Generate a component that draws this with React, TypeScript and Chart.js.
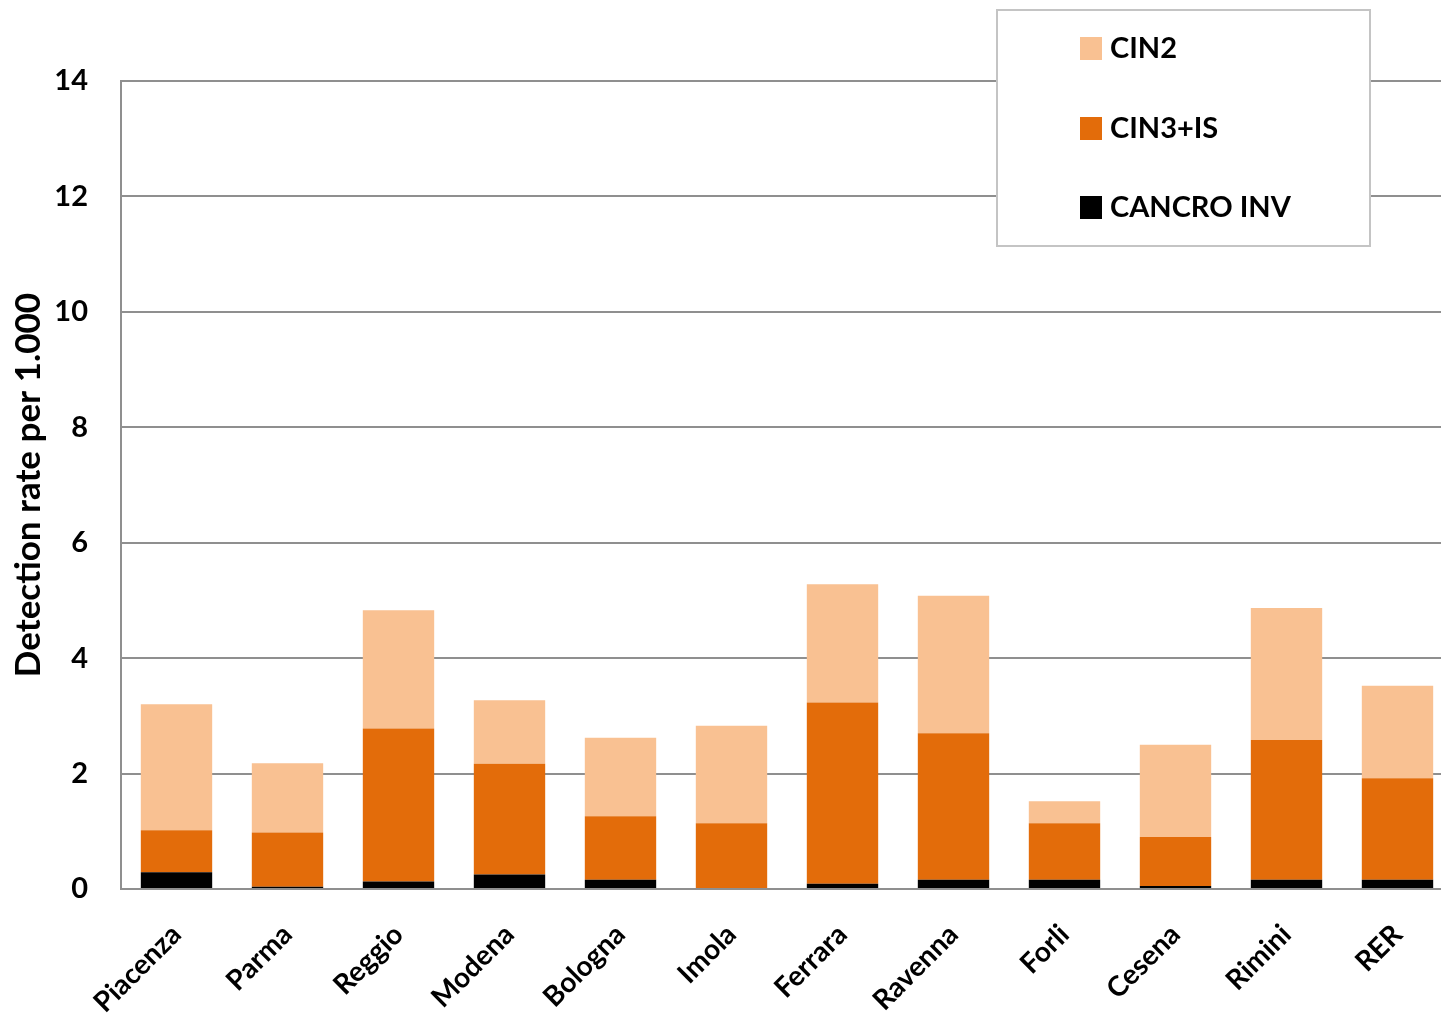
import React, { useEffect, useRef } from "react";
import { Chart, registerables } from "chart.js";

Chart.register(...registerables);

const categories = ["Piacenza", "Parma", "Reggio", "Modena", "Bologna", "Imola", "Ferrara", "Ravenna", "Forli", "Cesena", "Rimini", "RER"];
const cancroInv = [0.29, 0.04, 0.13, 0.25, 0.16, 0.0, 0.09, 0.16, 0.16, 0.05, 0.16, 0.16];
const cin3is = [0.73, 0.94, 2.65, 1.92, 1.10, 1.14, 3.14, 2.54, 0.98, 0.85, 2.42, 1.76];
const cin2 = [2.18, 1.20, 2.05, 1.10, 1.36, 1.69, 2.05, 2.38, 0.38, 1.60, 2.29, 1.60];
const yTicks = [0, 2, 4, 6, 8, 10, 12, 14];

const FONT = "Lato, 'Open Sans', sans-serif";

const legendBox = {
  id: "legendBox",
  afterDraw(chart: any) {
    const ctx = chart.ctx;
    ctx.save();
    ctx.fillStyle = "#ffffff";
    ctx.strokeStyle = "#c4c4c4";
    ctx.lineWidth = 2;
    ctx.fillRect(997, 10, 373, 236);
    ctx.strokeRect(997, 10, 373, 236);
    const ds = [...chart.data.datasets].reverse();
    const ys = [48, 128, 207];
    ctx.font = `bold 29px ${FONT}`;
    ctx.textBaseline = "middle";
    ctx.textAlign = "left";
    ds.forEach((d: any, i: number) => {
      ctx.fillStyle = d.backgroundColor;
      ctx.fillRect(1080, ys[i] - 11, 22, 23);
      ctx.fillStyle = "#000000";
      ctx.fillText(d.label, 1110, ys[i] + 1);
    });
    ctx.restore();
  },
};

export default function App() {
  const ref = useRef<HTMLCanvasElement | null>(null);
  useEffect(() => {
    document.body.style.margin = "0";
    const canvas = ref.current!;
    const chart = new Chart(canvas, {
      type: "bar",
      data: {
        labels: categories,
        datasets: [
          { label: "CANCRO INV", data: cancroInv, backgroundColor: "#000000" },
          { label: "CIN3+IS", data: cin3is, backgroundColor: "#E36C0A" },
          { label: "CIN2", data: cin2, backgroundColor: "#F9C192" },
        ],
      },
      options: {
        responsive: false,
        animation: false,
        devicePixelRatio: 1,
        layout: { padding: { top: 81, right: 0, bottom: 0, left: 0 } },
        datasets: { bar: { categoryPercentage: 1, barPercentage: 0.643, borderWidth: 0 } },
        plugins: { legend: { display: false }, tooltip: { enabled: false } },
        scales: {
          x: {
            stacked: true,
            grid: { display: false },
            border: { display: true, color: "#8f8f8f", width: 2 },
            ticks: {
              autoSkip: false,
              minRotation: 45,
              maxRotation: 45,
              padding: 21,
              color: "#000000",
              font: { family: FONT, size: 28, weight: "bold" },
            },
            afterFit(s: any) {
              s.height = 132;
            },
          },
          y: {
            stacked: true,
            min: 0,
            max: 14,
            afterBuildTicks(s: any) {
              s.ticks = yTicks.map((v) => ({ value: v }));
            },
            grid: { color: "#8f8f8f", lineWidth: 2, drawTicks: false },
            border: { display: true, color: "#8f8f8f", width: 2 },
            ticks: {
              padding: 33,
              color: "#000000",
              font: { family: FONT, size: 29, weight: "bold" },
            },
            title: {
              display: true,
              text: "Detection rate per 1.000",
              color: "#000000",
              padding: { top: 8, bottom: 0 },
              font: { family: FONT, size: 35, weight: "bold" },
            },
            afterFit(s: any) {
              s.width = 121;
            },
          },
        },
      },
      plugins: [legendBox],
    });
    return () => chart.destroy();
  }, []);
  return (
    <div style={{ width: 1441, height: 1021, overflow: "hidden" }}>
      <canvas ref={ref} width={1453} height={1021} style={{ display: "block", width: 1453, height: 1021 }} />
    </div>
  );
}
